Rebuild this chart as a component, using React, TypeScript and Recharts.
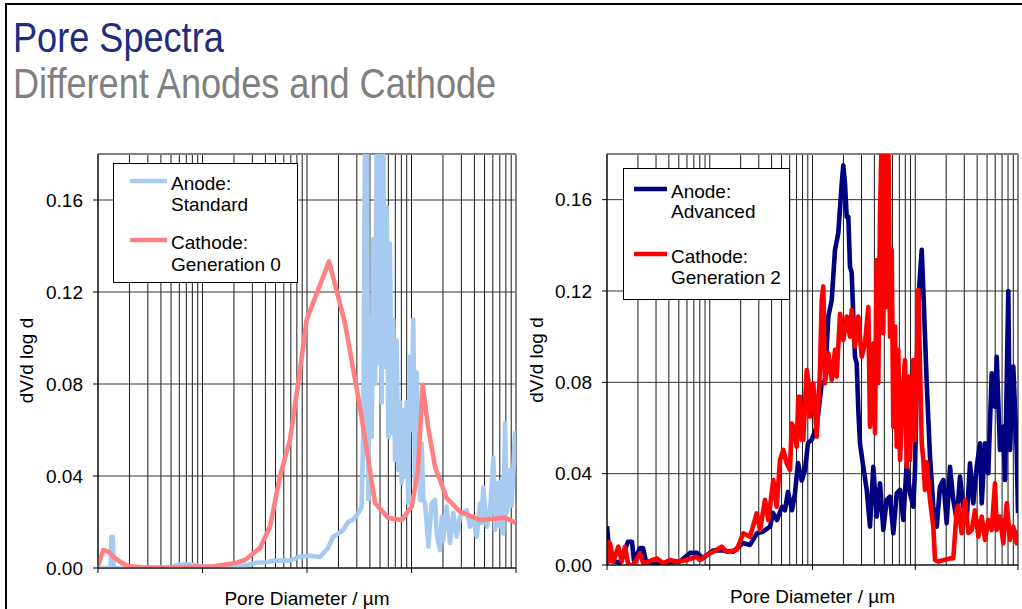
import React from 'react';
import { LineChart, Line, XAxis, YAxis, CartesianGrid, ReferenceLine } from 'recharts';

const FONT = '"Liberation Sans", Arial, Helvetica, sans-serif';

// Pore diameter (µm) grid ticks on the log axis
const GRID_TICKS = [
  0.01, 0.02, 0.03, 0.04, 0.05, 0.06, 0.07, 0.08, 0.09,
  0.1, 0.2, 0.3, 0.4, 0.5, 0.6, 0.7, 0.8, 0.9,
  1, 2, 3, 4, 5, 6, 7, 8, 9,
  10, 20, 30, 40, 50, 60, 70, 80, 90, 100,
];
const DECADES = [0.01, 0.1, 1, 10, 100];
const Y_TICKS = [0, 0.04, 0.08, 0.12, 0.16];

// [pore diameter µm, dV/d log d]
const anodeStandard: [number, number][] = [
  [0.01, 0], [0.0125, 0], [0.0132, 0], [0.01346, 0.0136], [0.01382, 0.0136], [0.0142, 0],
  [0.0489, 0], [0.0583, 0.0015], [0.0759, 0.0015], [0.0946, 0.0008], [0.229, 0.0005],
  [0.33, 0.0023], [0.396, 0.0025], [0.494, 0.0032], [0.687, 0.0032], [0.857, 0.0049],
  [1.069, 0.0053], [1.331, 0.0048], [1.589, 0.0087], [1.774, 0.0136], [1.923, 0.0145],
  [2.223, 0.0165], [2.483, 0.0201], [2.773, 0.021], [3.097, 0.0239], [3.33, 0.0267],
  [3.46, 0.06], [3.59, 0.19], [3.75, 0.19], [3.86, 0.03], [4.01, 0.109], [4.16, 0.057],
  [4.31, 0.143], [4.48, 0.08], [4.65, 0.19], [4.81, 0.089], [5.0, 0.19], [5.19, 0.072],
  [5.37, 0.19], [5.57, 0.0875], [5.79, 0.157], [6.0, 0.057], [6.22, 0.141], [6.47, 0.0587],
  [6.7, 0.108], [6.95, 0.047], [7.21, 0.099], [7.48, 0.0426], [7.76, 0.072], [8.05, 0.037],
  [8.35, 0.0687], [8.67, 0.0397], [8.99, 0.072], [9.31, 0.0283], [9.68, 0.0919], [10.05, 0.06],
  [10.4, 0.108], [10.8, 0.037], [11.2, 0.085], [11.6, 0.06], [12.1, 0.0296], [12.5, 0.054],
  [13.0, 0.0296], [13.5, 0.028], [14.5, 0.0093], [15.6, 0.028], [16.8, 0.0296], [17.4, 0.015],
  [18.7, 0.0078], [19.5, 0.0223], [20.1, 0.012], [21.7, 0.0267], [23.4, 0.0109], [25.1, 0.024],
  [27.1, 0.0136], [29.1, 0.0223], [31.3, 0.024], [33.7, 0.025], [36.3, 0.018], [39.0, 0.022],
  [42.1, 0.0136], [45.3, 0.028], [47.0, 0.0196], [48.6, 0.035], [52.5, 0.018], [56.4, 0.024],
  [60.7, 0.048], [63.0, 0.0165], [67.7, 0.037], [70.3, 0.018], [72.9, 0.038], [75.5, 0.015],
  [78.5, 0.063], [81.5, 0.024], [87.7, 0.0426], [91.0, 0.027], [97.8, 0.0587], [100, 0.058],
];

const cathodeGen0: [number, number][] = [
  [0.01, 0.001], [0.01124, 0.0078], [0.01255, 0.0071], [0.01455, 0.0043], [0.01686, 0.0022],
  [0.0195, 0.0009], [0.0252, 0.0003], [0.0454, 0.0002], [0.126, 0.0006], [0.2125, 0.0023],
  [0.255, 0.0035], [0.355, 0.0087], [0.443, 0.018], [0.552, 0.04], [0.687, 0.0557],
  [0.857, 0.086], [0.993, 0.108], [1.625, 0.1333], [2.31, 0.1065], [3.21, 0.0701],
  [4.48, 0.0283], [6.0, 0.0217], [8.05, 0.0209], [10.05, 0.0267], [11.5, 0.042],
  [12.8, 0.0796], [14.4, 0.0614], [16.8, 0.044], [21.7, 0.0304], [29.1, 0.0245],
  [45.3, 0.0209], [78.5, 0.0219], [100, 0.0196],
];

const anodeAdvanced: [number, number][] = [
  [0.01, 0.017], [0.0107, 0.002], [0.0134, 0.001], [0.016, 0.0102], [0.0175, 0.0102],
  [0.0183, 0.002], [0.021, 0.0074], [0.0224, 0.0074], [0.0244, 0], [0.0367, 0.001],
  [0.0513, 0.0015], [0.0643, 0.0053], [0.0751, 0.0053], [0.086, 0.003], [0.1075, 0.0063],
  [0.1258, 0.0065], [0.1684, 0.0058], [0.2107, 0.0096], [0.2465, 0.0088], [0.2884, 0.0139],
  [0.3298, 0.0146], [0.3859, 0.0168], [0.4127, 0.0228], [0.4514, 0.0197], [0.5049, 0.0255],
  [0.54, 0.024], [0.5776, 0.032], [0.6318, 0.024], [0.6757, 0.0315], [0.7226, 0.0447],
  [0.7852, 0.037], [0.8453, 0.0416], [0.9041, 0.0534], [0.9822, 0.0548], [1.099, 0.0606],
  [1.229, 0.0796], [1.323, 0.081], [1.425, 0.1088], [1.538, 0.116], [1.656, 0.138],
  [1.783, 0.1454], [1.924, 0.167], [1.994, 0.175], [2.071, 0.167], [2.152, 0.1525],
  [2.231, 0.1525], [2.317, 0.1307], [2.407, 0.128], [2.495, 0.1088], [2.592, 0.0912],
  [2.693, 0.0883], [2.791, 0.068], [2.9, 0.0533], [3.122, 0.043], [3.37, 0.0329],
  [3.627, 0.0168], [3.906, 0.043], [4.215, 0.0212], [4.538, 0.0358], [4.888, 0.0153],
  [5.275, 0.0285], [5.68, 0.0299], [6.116, 0.0139], [6.601, 0.0314], [7.108, 0.0329],
  [7.651, 0.0197], [8.258, 0.0445], [8.89, 0.0314], [9.572, 0.0255], [9.945, 0.0416],
  [10.71, 0.116], [11.56, 0.138], [11.98, 0.1205], [12.93, 0.0796], [13.92, 0.0474],
  [14.99, 0.0255], [16.18, 0.0168], [17.41, 0.0343], [18.75, 0.0372], [20.24, 0.0183],
  [21.79, 0.043], [23.46, 0.0285], [25.31, 0.0197], [27.26, 0.0387], [29.36, 0.0255],
  [31.67, 0.0197], [34.11, 0.0445], [36.73, 0.027], [39.63, 0.043], [42.67, 0.0533],
  [44.35, 0.027], [47.74, 0.0533], [51.4, 0.0402], [55.46, 0.084], [59.73, 0.0693],
  [62.05, 0.0912], [66.8, 0.0504], [71.94, 0.0606], [74.73, 0.0372], [80.46, 0.12],
  [83.58, 0.0504], [90.02, 0.0869], [97.1, 0.0504], [100, 0.0228],
];

const cathodeGen2: [number, number][] = [
  [0.01, 0.011], [0.01046, 0.0015], [0.0107, 0.0095], [0.01152, 0.0015], [0.01288, 0.008],
  [0.0139, 0.0015], [0.01497, 0.008], [0.01612, 0], [0.01803, 0], [0.02095, 0.0051],
  [0.02256, 0.0007], [0.03046, 0.0029], [0.03532, 0.0007], [0.04104, 0.0022], [0.04767, 0.0015],
  [0.05968, 0.0022], [0.07464, 0.0036], [0.08036, 0.0022], [0.09339, 0.0044], [0.1083, 0.0058],
  [0.1307, 0.008], [0.1462, 0.0058], [0.183, 0.0066], [0.2121, 0.0139], [0.2465, 0.0124],
  [0.2864, 0.0226], [0.3084, 0.0153], [0.3449, 0.0285], [0.3715, 0.0197], [0.4154, 0.0372],
  [0.4483, 0.0255], [0.4828, 0.046], [0.5199, 0.0504], [0.5609, 0.0445], [0.604, 0.0416],
  [0.6275, 0.062], [0.6503, 0.0606], [0.702, 0.0518], [0.7276, 0.0737], [0.7556, 0.0737],
  [0.7852, 0.0548], [0.8139, 0.0548], [0.8784, 0.0854], [0.9103, 0.081], [0.9456, 0.065],
  [1.018, 0.0796], [1.099, 0.0562], [1.183, 0.0854], [1.229, 0.116], [1.274, 0.122],
  [1.323, 0.0796], [1.425, 0.0927], [1.538, 0.081], [1.656, 0.0942], [1.72, 0.0825],
  [1.852, 0.11], [1.994, 0.0985], [2.152, 0.1088], [2.317, 0.1], [2.407, 0.1117],
  [2.592, 0.0956], [2.791, 0.1088], [3.012, 0.0912], [3.243, 0.097], [3.493, 0.113],
  [3.627, 0.0606], [3.769, 0.0825], [3.906, 0.097], [4.057, 0.0577], [4.215, 0.1336],
  [4.369, 0.0796], [4.538, 0.1525], [4.716, 0.19], [4.888, 0.1015], [5.077, 0.19],
  [5.275, 0.113], [5.468, 0.19], [5.68, 0.1], [5.899, 0.138], [6.116, 0.0606],
  [6.352, 0.1044], [6.601, 0.0518], [6.839, 0.0942], [7.108, 0.046], [7.651, 0.0796],
  [7.948, 0.0898], [8.258, 0.043], [8.558, 0.0825], [8.89, 0.046], [9.572, 0.0898],
  [9.945, 0.0548], [10.71, 0.1205], [11.12, 0.087], [11.56, 0.0533], [11.98, 0.046],
  [12.44, 0.0329], [12.93, 0.045], [13.92, 0.0285], [14.99, 0.0168], [15.57, 0.0022],
  [16.76, 0.0015], [21.79, 0.0029], [23.46, 0.0029], [25.31, 0.024], [26.24, 0.026],
  [28.32, 0.0139], [30.5, 0.0285], [32.84, 0.014], [35.43, 0.0153], [38.15, 0.024],
  [41.09, 0.0124], [44.35, 0.0212], [47.74, 0.011], [51.4, 0.0197], [55.46, 0.0153],
  [59.73, 0.0358], [62.05, 0.0153], [66.8, 0.0212], [71.94, 0.0095], [77.62, 0.027],
  [83.58, 0.011], [90.02, 0.0168], [97.1, 0.0095], [100, 0.0153],
];

const toRows = (arr: [number, number][]) => arr.map(([d, v]) => ({ d, v }));

const XTick = (props: any) => {
  const { x, y, payload } = props;
  if (!DECADES.includes(payload.value)) return <g />;
  return <line x1={x} x2={x} y1={y - 5} y2={y} stroke="#000" strokeWidth={1} />;
};

type SeriesDef = { name: string; color: string; rows: { d: number; v: number }[] };

function Panel(props: {
  left: number;
  width: number;
  yAxisWidth: number;
  xAxisHeight: number;
  series: SeriesDef[];
}) {
  const { left, width, yAxisWidth, xAxisHeight, series } = props;
  return (
    <div style={{ position: 'absolute', left, top: 0 }}>
      <LineChart width={width} height={609} margin={{ top: 154, right: 4, bottom: 0, left: 0 }}>
        <CartesianGrid horizontal={false} stroke="#1a1a1a" strokeWidth={1} />
        <CartesianGrid vertical={false} stroke="#333" strokeWidth={1} />
        <XAxis
          type="number"
          dataKey="d"
          scale="log"
          domain={[0.01, 100]}
          allowDataOverflow
          ticks={GRID_TICKS}
          interval={0}
          tick={XTick}
          tickLine={false}
          tickSize={5}
          tickMargin={0}
          height={xAxisHeight}
          axisLine={{ stroke: '#000', strokeWidth: 1 }}
        />
        <YAxis
          type="number"
          domain={[0, 0.18]}
          allowDataOverflow
          ticks={Y_TICKS}
          interval={0}
          width={yAxisWidth}
          tickFormatter={(v: number) => v.toFixed(2)}
          tickSize={5}
          tickMargin={10}
          tick={{ fill: '#000', fontSize: 19, fontFamily: FONT }}
          tickLine={{ stroke: '#000' }}
          axisLine={{ stroke: '#000', strokeWidth: 1 }}
        />
        <ReferenceLine y={0.18} stroke="#808080" strokeWidth={2} />
        <ReferenceLine x={100} stroke="#808080" strokeWidth={1.5} />
        {series.map((s) => (
          <Line
            key={s.name}
            name={s.name}
            data={s.rows}
            dataKey="v"
            type="linear"
            stroke={s.color}
            strokeWidth={4.6}
            strokeLinejoin="round"
            dot={false}
            activeDot={false}
            isAnimationActive={false}
          />
        ))}
      </LineChart>
    </div>
  );
}

const LIGHT_BLUE = '#A6CAF0';
const SALMON = '#FF8080';
const NAVY = '#000080';
const RED = '#FF0000';

export default function App() {
  const leftSeries: SeriesDef[] = [
    { name: 'Anode: Standard', color: LIGHT_BLUE, rows: toRows(anodeStandard) },
    { name: 'Cathode: Generation 0', color: SALMON, rows: toRows(cathodeGen0) },
  ];
  const rightSeries: SeriesDef[] = [
    { name: 'Anode: Advanced', color: NAVY, rows: toRows(anodeAdvanced) },
    { name: 'Cathode: Generation 2', color: RED, rows: toRows(cathodeGen2) },
  ];
  const txt = { fontFamily: FONT, fontSize: 19, fill: '#000' } as const;
  return (
    <div style={{ position: 'absolute', left: 0, top: 0, width: 1022, height: 609, background: '#fff', overflow: 'hidden' }}>
      <Panel left={0} width={520} yAxisWidth={98} xAxisHeight={41} series={leftSeries} />
      <Panel left={510} width={512} yAxisWidth={97} xAxisHeight={44} series={rightSeries} />
      <svg width={1022} height={609} style={{ position: 'absolute', left: 0, top: 0, pointerEvents: 'none' }}>
        <line x1={6} y1={3} x2={6} y2={609} stroke="#000" strokeWidth={2} />
        <line x1={5} y1={4} x2={1022} y2={4} stroke="#000" strokeWidth={2} />
        <text transform="translate(13,52) scale(0.86,1)" fontFamily={FONT} fontSize={42} fill="#202C80">Pore Spectra</text>
        <text transform="translate(13,98) scale(0.86,1)" fontFamily={FONT} fontSize={42} fill="#808080">Different Anodes and Cathode</text>

        <text {...txt} x={307} y={605} textAnchor="middle">Pore Diameter / µm</text>
        <text {...txt} x={812.5} y={602.7} textAnchor="middle">Pore Diameter / µm</text>
        <text {...txt} transform="translate(33,360.5) rotate(-90)" textAnchor="middle">dV/d log d</text>
        <text {...txt} transform="translate(543.3,360) rotate(-90)" textAnchor="middle">dV/d log d</text>

        <rect x={113.5} y={163.5} width={184} height={119} fill="#fff" stroke="#000" strokeWidth={1} />
        <line x1={130} x2={167} y1={181} y2={181} stroke={LIGHT_BLUE} strokeWidth={4.6} />
        <text {...txt} x={171} y={190}>Anode:</text>
        <text {...txt} x={171} y={211}>Standard</text>
        <line x1={130} x2={167} y1={240} y2={240} stroke={SALMON} strokeWidth={4.6} />
        <text {...txt} x={171} y={249.3}>Cathode:</text>
        <text {...txt} x={171} y={271}>Generation 0</text>

        <rect x={623.5} y={168.5} width={166} height={131} fill="#fff" stroke="#000" strokeWidth={1} />
        <line x1={634} x2={667} y1={189} y2={189} stroke={NAVY} strokeWidth={4.6} />
        <text {...txt} x={671} y={197.7}>Anode:</text>
        <text {...txt} x={671} y={218.3}>Advanced</text>
        <line x1={634} x2={667} y1={254} y2={254} stroke={RED} strokeWidth={4.6} />
        <text {...txt} x={671} y={263.3}>Cathode:</text>
        <text {...txt} x={671} y={284}>Generation 2</text>
      </svg>
    </div>
  );
}
